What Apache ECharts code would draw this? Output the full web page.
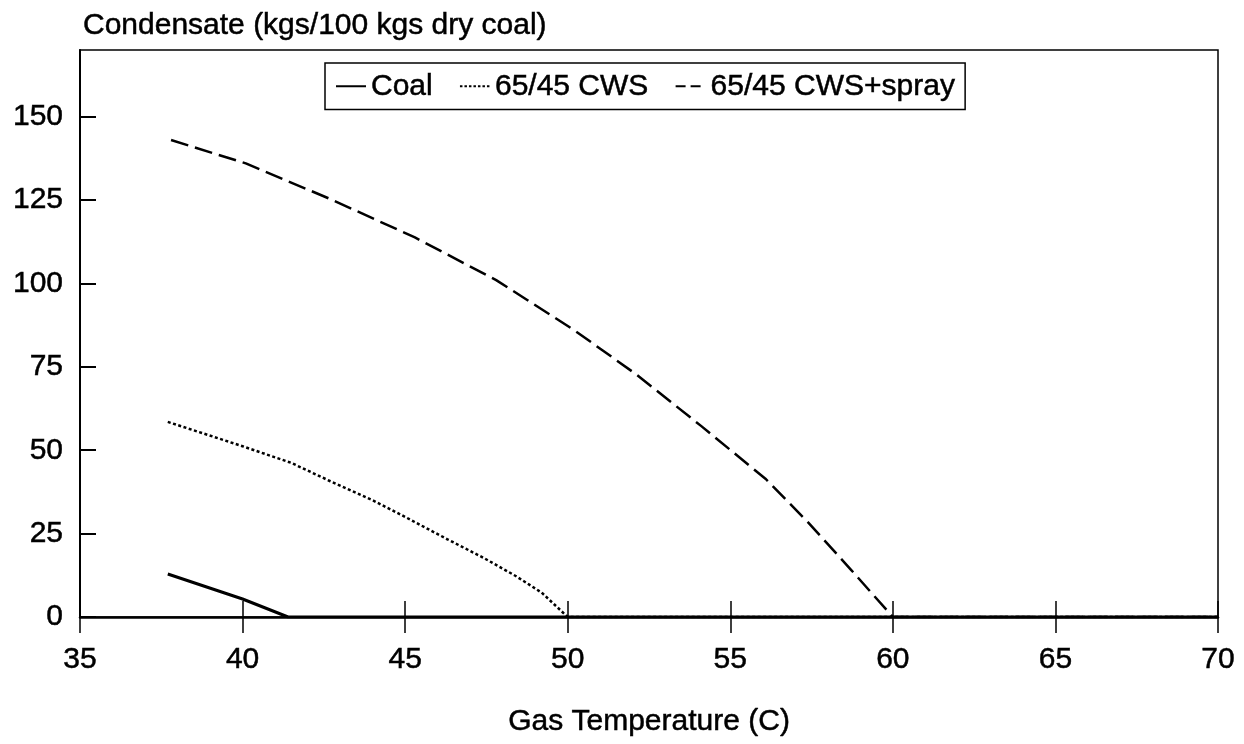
<!DOCTYPE html>
<html>
<head>
<meta charset="utf-8">
<title>Condensate vs Gas Temperature</title>
<script src="https://cdn.jsdelivr.net/npm/echarts@6/dist/echarts.min.js"></script>
<style>
  html, body { margin: 0; padding: 0; background: #fff; }
  #chart { width: 1244px; height: 744px; }
</style>
</head>
<body>
<div id="chart"></div>
<script>
// Condensate (kgs per 100 kgs dry coal) against gas temperature (C)
const seriesNames = ['Coal', '65/45 CWS', '65/45 CWS+spray'];

const coal = [[37.7, 12.9], [40, 5.4], [41.4, 0], [70, 0]];

const cws = [
  [37.7, 58.5], [40, 51.2], [41.5, 46.2], [42.7, 40.7], [44, 35],
  [45, 30], [46.3, 23.3], [47.4, 17.8], [48.4, 12.3], [49.2, 7.3],
  [50, 0], [70, 0]
];

const cwsSpray = [
  [37.8, 143], [40.1, 136], [42.7, 125.3], [45.3, 113.8], [47.8, 101],
  [50.2, 86], [52.1, 72.8], [54.1, 57.3], [56.1, 41.3], [57.4, 28.3],
  [58.7, 14.3], [60, 0], [70, 0]
];

const yTickValues = [0, 25, 50, 75, 100, 125, 150];

const FONT = '"Liberation Sans", Arial, Helvetica, sans-serif';
const INK = '#000';
const FS = 30;

// slightly heavy lettering, as on a printed plot
const textInk = {
  fontFamily: FONT, fontSize: FS, fontWeight: 'normal', color: INK,
  textBorderColor: INK, textBorderWidth: 0.5
};

const chart = echarts.init(document.getElementById('chart'), null, { renderer: 'canvas' });

const xBase = {
  type: 'value',
  min: 35,
  max: 70,
  interval: 5,
  position: 'bottom',
  splitLine: { show: false }
};

function lineSeries(name, data, width, dash) {
  return {
    name: name,
    type: 'line',
    data: data,
    symbol: 'none',
    lineStyle: { color: INK, width: width, type: dash },
    itemStyle: { color: INK },
    z: 3
  };
}

chart.setOption({
  animation: false,
  backgroundColor: '#fff',
  title: {
    text: 'Condensate (kgs/100 kgs dry coal)',
    left: 78,
    top: 6,
    textStyle: textInk
  },
  legend: {
    data: [
      { name: seriesNames[0] },
      { name: seriesNames[1], lineStyle: { type: [2.5, 2] } },
      { name: seriesNames[2], lineStyle: { type: [10, 5] } }
    ],
    left: 325,
    top: 63,
    orient: 'horizontal',
    backgroundColor: '#fff',
    borderColor: INK,
    borderWidth: 1.5,
    borderRadius: 0,
    padding: [8, 10, 8, 10],
    itemWidth: 30,
    itemHeight: 14,
    itemGap: 26,
    itemStyle: { opacity: 0 },
    textStyle: textInk
  },
  grid: {
    left: 80,
    right: 26,
    top: 50,
    bottom: 127,
    show: true,
    borderColor: INK,
    borderWidth: 1.5,
    backgroundColor: 'transparent'
  },
  xAxis: [
    Object.assign({}, xBase, {
      name: 'Gas Temperature (C)',
      nameLocation: 'middle',
      nameGap: 90,
      nameTextStyle: textInk,
      axisLine: { show: true, lineStyle: { color: INK, width: 2.5 } },
      axisTick: { show: true, inside: true, length: 16, lineStyle: { color: INK, width: 1.5 } },
      axisLabel: Object.assign({ show: true, margin: 28 }, textInk)
    }),
    Object.assign({}, xBase, {
      axisLine: { show: false },
      axisTick: { show: true, inside: false, length: 16, lineStyle: { color: INK, width: 1.5 } },
      axisLabel: { show: false }
    })
  ],
  yAxis: {
    type: 'value',
    min: 0,
    max: 170,
    splitLine: { show: false },
    axisLine: { show: true, onZero: false, lineStyle: { color: INK, width: 2 } },
    axisTick: {
      show: true, inside: true, length: 16,
      customValues: yTickValues,
      lineStyle: { color: INK, width: 2 }
    },
    axisLabel: Object.assign({ show: true, margin: 17, customValues: yTickValues }, textInk)
  },
  series: [
    lineSeries(seriesNames[0], coal, 3, 'solid'),
    lineSeries(seriesNames[1], cws, 2.5, [3, 2.5]),
    lineSeries(seriesNames[2], cwsSpray, 2.5, [18, 7])
  ]
});
</script>
</body>
</html>
